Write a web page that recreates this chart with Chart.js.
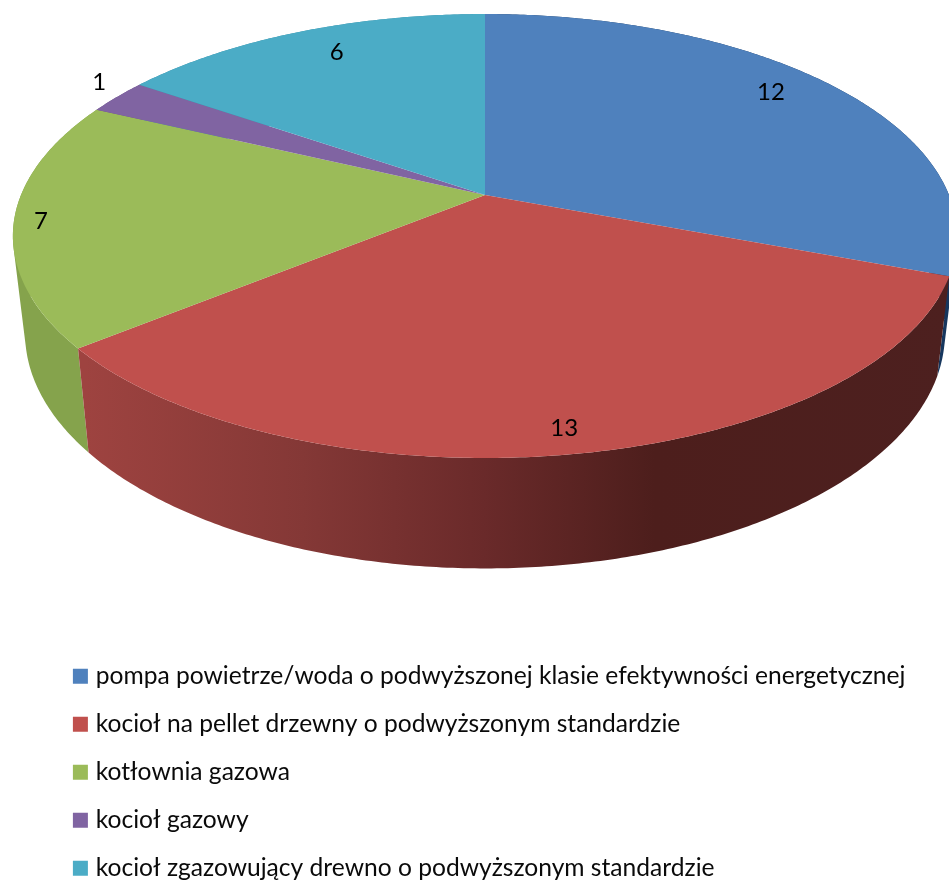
<!DOCTYPE html>
<html><head><meta charset="utf-8">
<style>html,body{margin:0;padding:0;background:#fff}canvas{display:block}</style>
<script src="https://cdn.jsdelivr.net/npm/chart.js@4"></script>
</head><body>
<canvas id="c" width="949" height="880"></canvas>
<script>
const categories = [
  "pompa powietrze/woda o podwyższonej klasie efektywności energetycznej",
  "kocioł na pellet drzewny o podwyższonym standardzie",
  "kotłownia gazowa",
  "kocioł gazowy",
  "kocioł zgazowujący drewno o podwyższonym standardzie"
];
const values = [12, 13, 7, 1, 6];
const colors = ["#4f81bd", "#c0504d", "#9bbb59", "#8064a2", "#4bacc6"];
const wallShades = ["#17375e", null, "#85a34c", "#6a5388", "#3b8ea5"];
const redWallStops = [[0.09, "#9e4340"], [0.32, "#843836"], [0.51, "#6a2a2a"], [0.69, "#4d1e1c"], [1, "#4d201f"]];
const labelNudges = [[-28, -3], [-1, 5], [-21, 3], [-52, -24], [21, 6]];

const FONT = "Lato";
const top3d = {cx: 485, cy: 195, a: 464, b: 214.4, k: 0.1847};
const base3d = {cx: 485, cy: 290, a: 452, b: 227, k: 0.1847};
function project(p, ang, r = 1) {
  const x = r * Math.cos(ang), y = r * Math.sin(ang), d = 1 - p.k * y;
  return [p.cx + p.a * x / d, p.cy + p.b * y / d];
}
function arcPts(p, s, e) {
  const n = Math.max(2, Math.ceil((e - s) / 0.01)), pts = [];
  for (let i = 0; i <= n; i++) pts.push(project(p, s + (e - s) * i / n));
  return pts;
}
function trace(ctx, pts) {
  pts.forEach(q => ctx.lineTo(q[0], q[1]));
}
function traceWall(ctx, s, e) {
  const t = arcPts(top3d, s, e), b = arcPts(base3d, s, e);
  for (let i = 0; i + 1 < t.length; i++) {
    const quad = [t[i], t[i + 1], b[i + 1], b[i]];
    let area = 0;
    quad.forEach((q, j) => {
      const n = quad[(j + 1) % 4];
      area += q[0] * n[1] - n[0] * q[1];
    });
    if (area < 0) quad.reverse();
    ctx.moveTo(quad[0][0], quad[0][1]);
    trace(ctx, quad.slice(1));
    ctx.closePath();
  }
}
const pie3d = {
  id: "pie3d",
  beforeDatasetDraw(chart, args) {
    const ctx = chart.ctx, arcs = args.meta.data;
    ctx.save();
    [0, 4, 3, 2, 1].forEach(i => {
      const el = arcs[i];
      let fill = wallShades[i];
      if (!fill) {
        fill = ctx.createLinearGradient(0, 0, 949, 0);
        redWallStops.forEach(s => fill.addColorStop(s[0], s[1]));
      }
      ctx.beginPath();
      traceWall(ctx, el.startAngle, el.endAngle);
      ctx.fillStyle = fill;
      ctx.fill();
    });
    arcs.forEach((el, i) => {
      ctx.beginPath();
      ctx.moveTo(top3d.cx, top3d.cy);
      trace(ctx, arcPts(top3d, el.startAngle, el.endAngle));
      ctx.closePath();
      ctx.fillStyle = colors[i];
      ctx.fill();
    });
    ctx.restore();
    return false;
  },
  afterDatasetsDraw(chart) {
    const ctx = chart.ctx;
    ctx.save();
    ctx.fillStyle = "#000";
    ctx.font = "24px " + FONT;
    ctx.textAlign = "center";
    ctx.textBaseline = "middle";
    chart.getDatasetMeta(0).data.forEach((el, i) => {
      const q = project(top3d, (el.startAngle + el.endAngle) / 2, 0.9);
      ctx.fillText(String(values[i]), q[0] + labelNudges[i][0], q[1] + labelNudges[i][1]);
    });
    ctx.restore();
  }
};
new Chart(document.getElementById("c"), {
  type: "pie",
  data: {labels: categories, datasets: [{data: values, backgroundColor: colors, borderWidth: 0}]},
  options: {
    responsive: false,
    animation: false,
    layout: {padding: {left: 54, right: 0, top: 0, bottom: -24}},
    plugins: {
      tooltip: {enabled: false},
      legend: {
        position: "left",
        align: "end",
        maxWidth: 900,
        labels: {
          boxWidth: 6, boxHeight: 6, padding: 23.4, color: "#0a0a0a",
          font: {family: FONT, size: 24.6},
          generateLabels(chart) {
            return Chart.overrides.pie.plugins.legend.labels.generateLabels(chart).map(it => Object.assign(it, {
              strokeStyle: it.fillStyle, lineWidth: 9, lineJoin: "miter"
            }));
          }
        }
      }
    }
  },
  plugins: [pie3d]
});
</script>
</body></html>
